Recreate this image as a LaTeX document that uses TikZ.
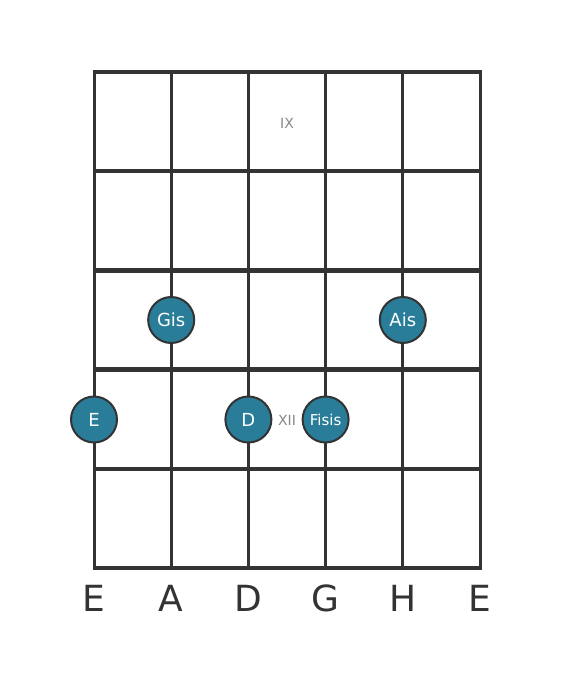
\documentclass[tikz,border=0pt]{standalone}
\usepackage{fontspec}
\setmainfont{DejaVu Sans}
\definecolor{grid}{HTML}{333333}
\definecolor{notefill}{HTML}{2A7D99}
\definecolor{fretlbl}{HTML}{888888}
\begin{document}
\begin{tikzpicture}[x=1pt,y=-1pt,
  fretline/.style={draw=grid,line width=4.5pt},
  stringline/.style={draw=grid,line width=3pt},
  note/.style={circle,draw=grid,line width=2pt,fill=notefill,minimum size=46pt,inner sep=0pt,text=white,font=\fontsize{18}{20}\selectfont},
  fretnum/.style={text=fretlbl,font=\fontsize{14}{16}\selectfont},
  strlbl/.style={text=grid,font=\fontsize{36}{40}\selectfont}]
\useasboundingbox (0,0) rectangle (560,682);
% strings
\foreach \i/\x in {0/94,1/171.2,2/248.4,3/325.6,4/402.8,5/480}{
  \draw[stringline] (\x,72) -- (\x,568);
}
% frets
\foreach \y in {72,171.2,270.4,369.6,468.8,568}{
  \draw[fretline] (92.5,\y) -- (481.5,\y);
}
\node[fretnum] (ix) at (287,123) {IX};
\node[fretnum] (xii) at (287,420) {XII};
\node[note] (gis) at (171.2,320) {Gis};
\node[note] (ais) at (402.8,320) {Ais};
\node[note] (e) at (94,419.5) {E};
\node[note] (d) at (248.4,419.5) {D};
\node[note,font=\fontsize{15}{17}\selectfont] (fisis) at (325.6,419.5) {Fisis};
\foreach \n/\x/\t in {s1/94/E,s2/171.2/A,s3/248.4/D,s4/325.6/G,s5/402.8/H,s6/480/E}{
  \node[strlbl] (\n) at (\x,598) {\t};
}
\end{tikzpicture}
\end{document}
